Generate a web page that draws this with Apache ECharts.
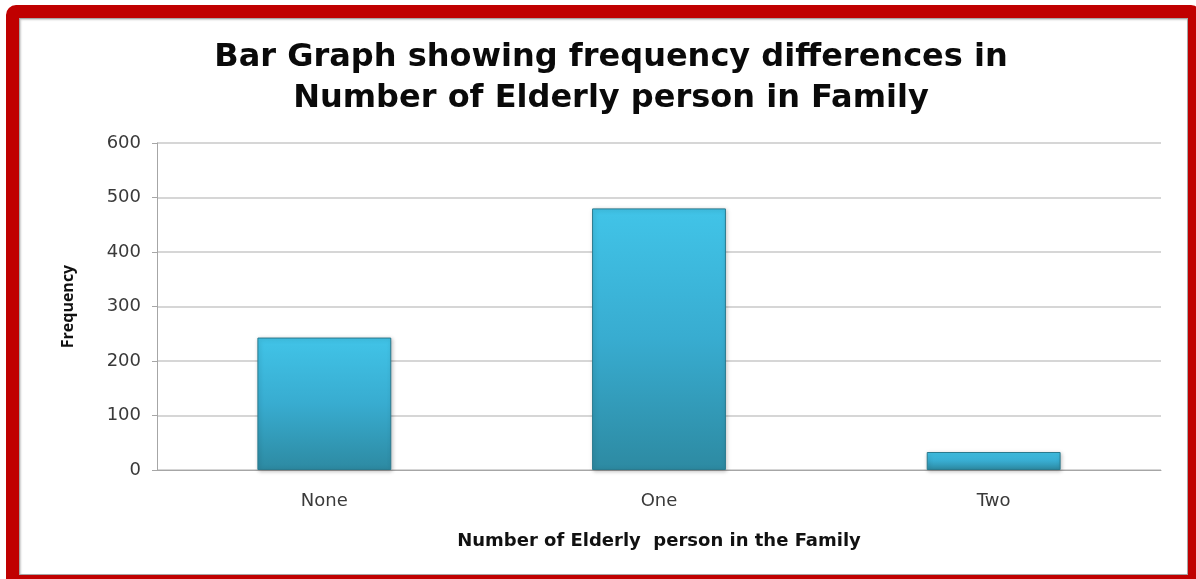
<!DOCTYPE html>
<html>
<head>
<meta charset="utf-8">
<script src="https://cdn.jsdelivr.net/npm/echarts@6/dist/echarts.min.js"></script>
<style>
  html, body { margin: 0; padding: 0; width: 1196px; height: 579px; overflow: hidden; background: #fff; }
  #frame { position: absolute; left: 6px; top: 5px; width: 1169px; height: 557px;
           border: 13px solid #c00000; border-radius: 10px 10px 0 0; box-sizing: content-box; }
  #inner { position: absolute; left: 19px; top: 18px; width: 1169px; height: 557px;
           border: 1px solid #a6a6a6; box-sizing: border-box; box-shadow: inset 1px 1px 2px #ccc; }
  #main { position: absolute; left: 0; top: 0; width: 1196px; height: 579px; }
</style>
</head>
<body>
<div id="frame"></div>
<div id="inner"></div>
<div id="main"></div>
<script>
var categories = ['None', 'One', 'Two'];
var frequency = [243, 480, 33];
var yTicks = [0, 100, 200, 300, 400, 500, 600];

var chart = echarts.init(document.getElementById('main'));

chart.setOption({
  animation: false,
  title: {
    text: 'Bar Graph showing frequency differences in\nNumber of Elderly person in Family',
    left: 606,
    top: 32,
    textAlign: 'center',
    textStyle: {
      fontFamily: 'DejaVu Sans',
      fontWeight: 'bold',
      fontSize: 32,
      lineHeight: 41,
      color: '#0a0a0a'
    }
  },
  grid: { left: 157, right: 35, top: 143, bottom: 109 },
  xAxis: {
    type: 'category',
    data: categories,
    name: 'Number of Elderly  person in the Family',
    nameLocation: 'middle',
    nameGap: 62,
    nameTextStyle: { fontFamily: 'DejaVu Sans', fontWeight: 'bold', fontSize: 18, color: '#111' },
    axisLine: { lineStyle: { color: '#a6a6a6' } },
    axisTick: { show: false },
    axisLabel: { fontFamily: 'DejaVu Sans', fontSize: 18, color: '#3a3a3a', margin: 22 }
  },
  yAxis: {
    type: 'value',
    min: yTicks[0],
    max: yTicks[yTicks.length - 1],
    interval: 100,
    name: 'Frequency',
    nameLocation: 'middle',
    nameGap: 81,
    nameTextStyle: { fontFamily: 'Liberation Sans Narrow, Open Sans', fontWeight: 'bold', fontSize: 16, color: '#111' },
    axisLine: { show: true, lineStyle: { color: '#a6a6a6' } },
    axisTick: { show: true, length: 5, lineStyle: { color: '#a6a6a6' } },
    axisLabel: { fontFamily: 'DejaVu Sans', fontSize: 18, color: '#3a3a3a', margin: 16 },
    splitLine: { lineStyle: { color: '#c8c8c8', width: 1.5 } }
  },
  series: [{
    type: 'bar',
    data: frequency,
    barWidth: '40%',
    itemStyle: {
      color: new echarts.graphic.LinearGradient(0, 0, 0, 1, [
        { offset: 0, color: '#41c4e8' },
        { offset: 0.5, color: '#38acd0' },
        { offset: 1, color: '#2d8aa2' }
      ]),
      borderColor: '#2a7a8e',
      borderWidth: 1,
      shadowColor: 'rgba(0,0,0,0.25)',
      shadowBlur: 4,
      shadowOffsetX: 1,
      shadowOffsetY: 1
    }
  }]
});
</script>
</body>
</html>
